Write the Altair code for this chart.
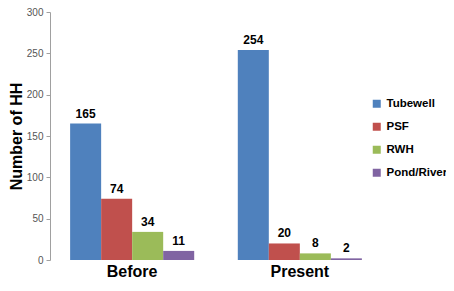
import altair as alt
import pandas as pd

periods = ["Before", "Present"]
sources = ["Tubewell", "PSF", "RWH", "Pond/River"]
before_vals = [165, 74, 34, 11]
present_vals = [254, 20, 8, 2]
colors = ["#4F81BD", "#C0504D", "#9BBB59", "#8064A2"]

rows = []
for s, v in zip(sources, before_vals):
    rows.append({"period": "Before", "source": s, "value": v})
for s, v in zip(sources, present_vals):
    rows.append({"period": "Present", "source": s, "value": v})
df = pd.DataFrame(rows)

x = alt.X("period:N", sort=periods, title=None,
          scale=alt.Scale(paddingInner=0.26, paddingOuter=0.12),
          axis=alt.Axis(labelAngle=0, labelFont="Liberation Sans", labelFontSize=16,
                        labelFontWeight="bold", labelColor="#000000", domain=False,
                        ticks=False, labelPadding=3))
xo = alt.XOffset("source:N", sort=sources)
y = alt.Y("value:Q", title="Number of HH",
          scale=alt.Scale(domain=[0, 300]),
          axis=alt.Axis(values=[0, 50, 100, 150, 200, 250, 300], grid=False,
                        domainColor="#A0A0A0", tickColor="#A0A0A0", tickSize=4,
                        labelColor="#555555", labelFont="Liberation Sans", labelFontSize=10,
                        labelPadding=3,
                        titleFont="Liberation Sans", titleFontSize=16, titleFontWeight="bold",
                        titleColor="#000000", titlePadding=2))

bars = alt.Chart(df).mark_bar(strokeWidth=0).encode(
    x=x, xOffset=xo, y=y,
    color=alt.Color("source:N", sort=sources,
                    scale=alt.Scale(domain=sources, range=colors),
                    legend=alt.Legend(title=None, orient="none", legendX=321, legendY=86,
                                      symbolType="square", symbolSize=64,
                                      symbolStrokeWidth=0,
                                      labelFont="Liberation Sans", labelFontSize=11.5,
                                      labelFontWeight="bold", labelColor="#000000",
                                      rowPadding=10, labelOffset=4))
)

labels = alt.Chart(df).mark_text(dy=-10, fontSize=12, fontWeight="bold",
                                 font="Liberation Sans", color="#000000").encode(
    x=alt.X("period:N", sort=periods), xOffset=xo, y=alt.Y("value:Q"),
    text=alt.Text("value:Q")
)

chart = alt.layer(bars, labels).properties(
    width=332, height=248,
    background="white",
    autosize=alt.AutoSizeParams(type="none"),
    padding={"left": 42, "top": 4, "right": 64, "bottom": 23}
).configure_view(strokeWidth=0)

chart.save("out.html", embed_options={"renderer": "svg", "actions": False})
